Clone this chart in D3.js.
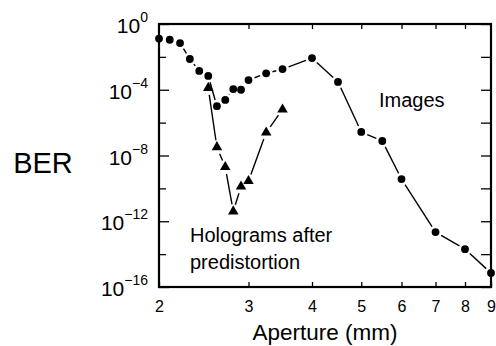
<!DOCTYPE html>
<html>
<head>
<meta charset="utf-8">
<script src="https://cdn.jsdelivr.net/npm/d3@7"></script>
<style>
  body { margin: 0; background: #fff; }
  svg { display: block; font-family: "Liberation Sans", Arial, Helvetica, sans-serif; }
</style>
</head>
<body>
<div id="chart"></div>
<script>

// aperture (mm) and BER
var imgAperture = [2.0, 2.1, 2.2, 2.3, 2.4, 2.5, 2.6, 2.7, 2.8, 2.9, 3.0, 3.25, 3.5, 4.0, 4.5, 5.0, 5.5, 6.0, 7.0, 8.0, 9.0];
var imgBER = [1.3e-1, 1.1e-1, 6.9e-2, 7.4e-3, 1.4e-3, 6.9e-4, 1.0e-5, 2.4e-5, 1.1e-4, 1.0e-4, 3.9e-4,
              1.0e-3, 1.8e-3, 8.5e-3, 3.0e-4, 2.7e-7, 7.6e-8, 3.7e-10, 2.2e-13, 2.0e-14, 7.1e-16];

var holAperture = [2.5, 2.6, 2.7, 2.8, 2.9, 3.0, 3.25, 3.5];
var holBER = [1.3e-4, 3.2e-8, 2.0e-9, 4.0e-12, 1.3e-10, 2.8e-10, 2.5e-7, 6.3e-6];

var xTicks = [2, 3, 4, 5, 6, 7, 8, 9];
var yMajor = [0, -4, -8, -12, -16];      // exponents
var yMinor = [-2, -6, -10, -14];

var W = 496, H = 346;
var m = {left: 159, top: 24, right: 5, bottom: 59};
var w = W - m.left - m.right, h = H - m.top - m.bottom;

var svg = d3.select("#chart").append("svg").attr("width", W).attr("height", H);
var g = svg.append("g").attr("transform", "translate(" + m.left + "," + m.top + ")");

var x = d3.scaleLog().domain([2, 9]).range([0, w]);
var y = d3.scaleLog().domain([1e-16, 1]).range([h, 0]);

function pw(e) { return Math.pow(10, e); }

// axes, ticks pointing inward
var axBottom = g.append("g").attr("transform", "translate(0," + h + ")")
    .call(d3.axisBottom(x).tickValues(xTicks).tickSizeInner(-5).tickSizeOuter(0)
          .tickPadding(13.5).tickFormat(d3.format("d")));
var axTop = g.append("g")
    .call(d3.axisTop(x).tickValues(xTicks.slice(1, -1)).tickSizeInner(-5).tickSizeOuter(0).tickFormat(""));
var axLeft = g.append("g")
    .call(d3.axisLeft(y).tickValues(yMajor.map(pw)).tickSizeInner(-10).tickSizeOuter(0).tickFormat(""));
var axLeftMinor = g.append("g")
    .call(d3.axisLeft(y).tickValues(yMinor.map(pw)).tickSizeInner(-7).tickSizeOuter(0).tickFormat(""));
var axRight = g.append("g").attr("transform", "translate(" + w + ",0)")
    .call(d3.axisRight(y).tickValues(yMajor.concat(yMinor).map(pw)).tickSizeInner(-10).tickSizeOuter(0).tickFormat(""));

[axBottom, axTop, axLeft, axLeftMinor, axRight].forEach(function(a) {
    a.select(".domain").remove();
    a.attr("font-family", null);
    a.selectAll("line").attr("stroke", "#000").attr("stroke-width", 1.3);
});
axBottom.attr("font-size", 16);
axBottom.selectAll("text").attr("fill", "#000");

// y labels 10^n with superscripts
yMajor.forEach(function(e) {
    var t = g.append("text")
        .attr("x", -11).attr("y", y(pw(e)) + 9)
        .attr("text-anchor", "end").attr("fill", "#000");
    t.append("tspan").attr("font-size", 21).text("10");
    t.append("tspan").attr("font-size", 14).attr("dy", -11).text(e === 0 ? "0" : "\u2212" + (-e));
});

// frame
g.append("rect").attr("width", w).attr("height", h)
    .attr("fill", "none").attr("stroke", "#000").attr("stroke-width", 2.2);

// connecting segments, trimmed so they stop short of the markers
function segments(xs, ys, gap) {
    var pts = xs.map(function(d, i) { return [x(d), y(ys[i])]; });
    for (var i = 0; i < pts.length - 1; i++) {
        var a = pts[i], b = pts[i + 1];
        var dx = b[0] - a[0], dy = b[1] - a[1], L = Math.sqrt(dx * dx + dy * dy);
        if (L <= 2 * gap) continue;
        var ux = dx / L, uy = dy / L;
        g.append("line")
            .attr("x1", a[0] + ux * gap).attr("y1", a[1] + uy * gap)
            .attr("x2", b[0] - ux * gap).attr("y2", b[1] - uy * gap)
            .attr("stroke", "#000").attr("stroke-width", 1.4);
    }
}
segments(imgAperture, imgBER, 6.5);
segments(holAperture, holBER, 7);

g.selectAll("circle.img").data(imgAperture).enter().append("circle")
    .attr("cx", function(d) { return x(d); })
    .attr("cy", function(d, i) { return y(imgBER[i]); })
    .attr("r", 3.9).attr("fill", "#000");

g.selectAll("path.hol").data(holAperture).enter().append("path")
    .attr("d", d3.symbol().type(d3.symbolTriangle).size(48))
    .attr("transform", function(d, i) { return "translate(" + x(d) + "," + y(holBER[i]) + ")"; })
    .attr("fill", "#000");

// annotations
svg.append("text").attr("x", 379).attr("y", 107).attr("font-size", 20).text("Images");
svg.append("text").attr("x", 190).attr("y", 242).attr("font-size", 20).text("Holograms after");
svg.append("text").attr("x", 190).attr("y", 269).attr("font-size", 20).text("predistortion");

svg.append("text").attr("x", 43).attr("y", 173).attr("text-anchor", "middle").attr("font-size", 29).text("BER");
svg.append("text").attr("x", m.left + w / 2).attr("y", 340).attr("text-anchor", "middle")
    .attr("font-size", 22.5).text("Aperture (mm)");

</script>
</body>
</html>
